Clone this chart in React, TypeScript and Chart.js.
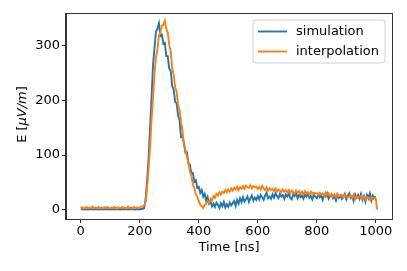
import React, { useEffect, useRef } from "react";
import { Chart, registerables } from "chart.js";

Chart.register(...registerables);

// ---- data ----
const TIME_NS = [
  0, 5, 10, 15, 20, 25, 30, 35, 40, 45,
  50, 55, 60, 65, 70, 75, 80, 85, 90, 95,
  100, 105, 110, 115, 120, 125, 130, 135, 140, 145,
  150, 155, 160, 165, 170, 175, 180, 185, 190, 195,
  200, 205, 210, 215, 220, 225, 230, 235, 240, 245,
  250, 255, 260, 265, 270, 275, 280, 285, 290, 295,
  300, 305, 310, 315, 320, 325, 330, 335, 340, 345,
  350, 355, 360, 365, 370, 375, 380, 385, 390, 395,
  400, 405, 410, 415, 420, 425, 430, 435, 440, 445,
  450, 455, 460, 465, 470, 475, 480, 485, 490, 495,
  500, 505, 510, 515, 520, 525, 530, 535, 540, 545,
  550, 555, 560, 565, 570, 575, 580, 585, 590, 595,
  600, 605, 610, 615, 620, 625, 630, 635, 640, 645,
  650, 655, 660, 665, 670, 675, 680, 685, 690, 695,
  700, 705, 710, 715, 720, 725, 730, 735, 740, 745,
  750, 755, 760, 765, 770, 775, 780, 785, 790, 795,
  800, 805, 810, 815, 820, 825, 830, 835, 840, 845,
  850, 855, 860, 865, 870, 875, 880, 885, 890, 895,
  900, 905, 910, 915, 920, 925, 930, 935, 940, 945,
  950, 955, 960, 965, 970, 975, 980, 985, 990, 995,
  1000, 1005,
];

const SIMULATION = [
  0.6, 1.0, 0.5, 0.9, 0.7, 0.4, 1.1, 0.6, 0.8, 0.5,
  0.9, 0.6, 0.4, 1.0, 0.7, 0.5, 0.9, 0.6, 1.0, 0.7,
  0.5, 0.9, 0.7, 0.4, 1.0, 0.6, 0.8, 0.5, 1.1, 0.6,
  0.7, 1.0, 0.5, 0.8, 0.6, 1.0, 0.7, 0.5, 0.9, 0.6,
  0.8, 1.2, 1.5, 3, 20, 55, 95, 150, 205, 265,
  296, 326, 331, 341, 318, 320, 303, 305, 281, 281,
  258, 254, 226, 220, 197, 195, 172, 163, 133, 132,
  122, 104, 105, 84, 83, 66, 67, 51, 54, 40,
  42, 31, 36, 24, 29, 16, 23, 11, 15, 6,
  11, 5, 13, 9, 3, 12, 6, 14, 4, 10,
  5, 13, 8, 12, 16, 7, 18, 11, 21, 14,
  23, 15, 19, 24, 14, 21, 26, 17, 22, 18,
  25, 19, 27, 23, 18, 26, 31, 21, 24, 20,
  28, 22, 30, 25, 21, 29, 24, 27, 20, 28,
  24, 29, 22, 19, 28, 25, 30, 21, 27, 23,
  26, 20, 28, 24, 29, 22, 25, 19, 27, 24,
  21, 28, 23, 26, 18, 27, 24, 30, 20, 25,
  27, 21, 25, 17, 28, 22, 26, 20, 24, 29,
  19, 25, 30, 21, 24, 16, 28, 22, 27, 20,
  29, 18, 25, 15, 27, 21, 30, 17, 26, 22,
  24, null,
];

const INTERPOLATION = [
  3, 4.5, 2, 3.5, 5, 2.5, 4, 3, 5.5, 2,
  4, 2.5, 5, 3, 4, 2, 4.5, 3, 5, 3.5,
  2.5, 4, 3, 5, 2, 4.5, 3.5, 2.5, 5, 3,
  4, 2, 5.5, 3, 4, 2.5, 5, 3.5, 4, 3,
  4.5, 6, 5, 8, 14, 40, 75, 115, 165, 205,
  250, 279, 293, 319, 324, 337, 338, 346, 330, 324,
  301, 289, 258, 247, 224, 216, 191, 182, 160, 144,
  117, 111, 96, 87, 70, 62, 46, 40, 28, 24,
  16, 9, 6, 3, 9, 10, 16, 13, 20, 17,
  25, 22, 29, 26, 32, 28, 33, 31, 36, 32,
  37, 33, 39, 35, 40, 37, 42, 36, 41, 38,
  43, 38, 44, 41, 40, 45, 39, 43, 41, 42,
  38, 42, 37, 44, 39, 36, 41, 35, 39, 36,
  38, 34, 39, 33, 37, 35, 32, 37, 33, 36,
  32, 36, 30, 35, 32, 29, 35, 31, 34, 29,
  33, 28, 34, 30, 32, 27, 33, 29, 31, 30,
  30, 27, 31, 28, 30, 25, 31, 27, 30, 25,
  29, 24, 28, 23, 29, 25, 26, 27, 22, 27,
  25, 23, 24, 26, 21, 27, 20, 25, 22, 24,
  25, 20, 24, 19, 23, 22, 18, 23, 19, 22,
  20, 0,
];

const SERIES_LABELS = ["simulation", "interpolation"];
const SERIES_COLORS = ["#1f77b4", "#ff7f0e"];
const X_TICKS = [0, 200, 400, 600, 800, 1000];
const Y_TICKS = [0, 100, 200, 300];
const X_TITLE = "Time [ns]";
const Y_TITLE_PARTS = [
  { text: "E [", italic: false },
  { text: "\u03BCV/m", italic: true },
  { text: "]", italic: false },
];

const FONT_FAMILY = "'DejaVu Sans', sans-serif";
const FONT_SIZE = 13;

export default function App() {
  const canvasRef = useRef<HTMLCanvasElement | null>(null);

  useEffect(() => {
    document.body.style.margin = "0";
    const canvas = canvasRef.current;
    if (!canvas) return;

    const decorations = {
      id: "decorations",
      afterDraw(chart: any) {
        const { ctx, chartArea } = chart;
        const { left, right, top, bottom } = chartArea;
        ctx.save();
        // frame
        ctx.strokeStyle = "#333";
        ctx.lineWidth = 1;
        ctx.strokeRect(Math.round(left) - 0.5, Math.round(top) - 0.5, Math.round(right - left) + 1, Math.round(bottom - top) + 1);

        // x title
        ctx.fillStyle = "#000";
        ctx.font = `${FONT_SIZE}px ${FONT_FAMILY}`;
        ctx.textAlign = "center";
        ctx.textBaseline = "middle";
        ctx.fillText(X_TITLE, (left + right) / 2, bottom + 29);

        // y title (mixed italic)
        ctx.translate(23, (top + bottom) / 2 - 2);
        ctx.rotate(-Math.PI / 2);
        ctx.textAlign = "left";
        let total = 0;
        const widths = Y_TITLE_PARTS.map((p) => {
          ctx.font = `${p.italic ? "italic " : ""}${FONT_SIZE}px ${FONT_FAMILY}`;
          const w = ctx.measureText(p.text).width;
          total += w;
          return w;
        });
        let x = -total / 2;
        Y_TITLE_PARTS.forEach((p, i) => {
          ctx.font = `${p.italic ? "italic " : ""}${FONT_SIZE}px ${FONT_FAMILY}`;
          ctx.fillText(p.text, x, 0);
          x += widths[i];
        });
        ctx.restore();

        // legend
        ctx.save();
        const bx = right - 139, by = top + 6, bw = 132, bh = 43;
        ctx.beginPath();
        const r = 3;
        ctx.moveTo(bx + r, by);
        ctx.arcTo(bx + bw, by, bx + bw, by + bh, r);
        ctx.arcTo(bx + bw, by + bh, bx, by + bh, r);
        ctx.arcTo(bx, by + bh, bx, by, r);
        ctx.arcTo(bx, by, bx + bw, by, r);
        ctx.closePath();
        ctx.fillStyle = "rgba(255,255,255,0.8)";
        ctx.fill();
        ctx.strokeStyle = "#d0d0d0";
        ctx.lineWidth = 1;
        ctx.stroke();
        ctx.font = `${FONT_SIZE}px ${FONT_FAMILY}`;
        ctx.textAlign = "left";
        ctx.textBaseline = "middle";
        SERIES_LABELS.forEach((label, i) => {
          const yy = by + 11.5 + i * 20;
          ctx.strokeStyle = SERIES_COLORS[i];
          ctx.lineWidth = 1.9;
          ctx.beginPath();
          ctx.moveTo(bx + 5, yy);
          ctx.lineTo(bx + 34, yy);
          ctx.stroke();
          ctx.fillStyle = "#000";
          ctx.fillText(label, bx + 43, yy);
        });
        ctx.restore();
      },
    };

    const toPoints = (values: (number | null)[]) =>
      TIME_NS.map((t, i) => ({ x: t, y: values[i] }));

    const chart = new Chart(canvas, {
      type: "line",
      data: {
        datasets: [
          {
            label: SERIES_LABELS[0],
            data: toPoints(SIMULATION) as any,
            borderColor: SERIES_COLORS[0],
            backgroundColor: SERIES_COLORS[0],
            borderWidth: 1.9,
            pointRadius: 0,
            tension: 0,
            order: 1,
          },
          {
            label: SERIES_LABELS[1],
            data: toPoints(INTERPOLATION) as any,
            borderColor: SERIES_COLORS[1],
            backgroundColor: SERIES_COLORS[1],
            borderWidth: 1.9,
            pointRadius: 0,
            tension: 0,
            order: 0,
          },
        ],
      },
      options: {
        animation: false,
        responsive: true,
        maintainAspectRatio: false,
        layout: { padding: { top: 14, right: 15, left: 0, bottom: 0 } },
        plugins: { legend: { display: false }, tooltip: { enabled: false } },
        scales: {
          x: {
            type: "linear",
            min: -50,
            max: 1055,
            afterBuildTicks: (scale: any) => {
              scale.ticks = X_TICKS.map((v) => ({ value: v }));
            },
            afterFit: (scale: any) => {
              scale.height = 52;
            },
            grid: {
              drawOnChartArea: false,
              drawTicks: true,
              tickLength: 4,
              tickColor: "#333",
            },
            border: { display: true, color: "#333", width: 1 },
            ticks: {
              autoSkip: false,
              maxRotation: 0,
              padding: 1,
              color: "#000",
              font: { family: FONT_FAMILY, size: FONT_SIZE },
              callback: (v: any) => String(v),
            },
          },
          y: {
            type: "linear",
            min: -17,
            max: 358,
            afterBuildTicks: (scale: any) => {
              scale.ticks = Y_TICKS.map((v) => ({ value: v }));
            },
            afterFit: (scale: any) => {
              scale.width = 66;
            },
            grid: {
              drawOnChartArea: false,
              drawTicks: true,
              tickLength: 4,
              tickColor: "#333",
            },
            border: { display: true, color: "#333", width: 1 },
            ticks: {
              autoSkip: false,
              padding: 2,
              color: "#000",
              font: { family: FONT_FAMILY, size: FONT_SIZE },
              callback: (v: any) => String(v),
            },
          },
        },
      },
      plugins: [decorations],
    });

    return () => chart.destroy();
  }, []);

  return (
    <div style={{ position: "fixed", left: 0, top: 0, width: 407, height: 271, background: "#fff" }}>
      <canvas ref={canvasRef} />
    </div>
  );
}
